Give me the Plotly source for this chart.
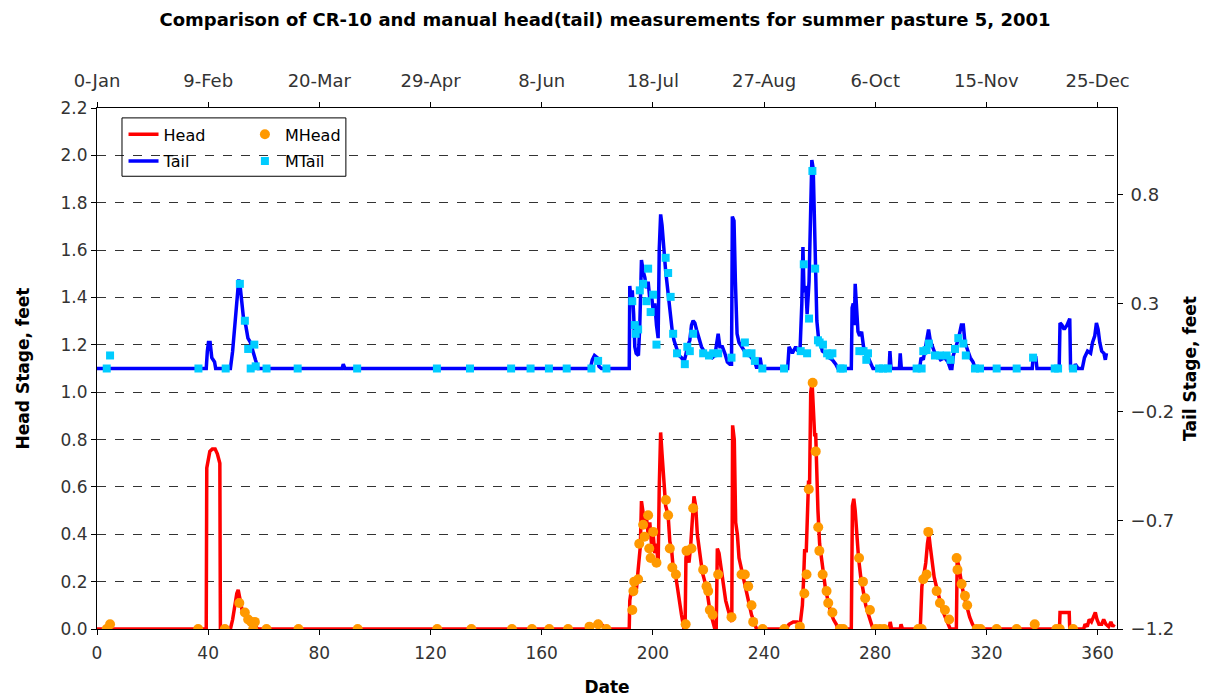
import plotly.graph_objects as go

# logger (CR-10) series, day of year 2001
head_day = [0, 39.3, 39.5, 40.0, 40.6, 41.5, 42.5, 43.3, 44.2, 44.4, 48.0, 48.8, 49.6, 50.3, 50.8, 51.5, 52.2,
            53.0, 54.0, 55.0, 56.0, 57.0, 58.0, 177.0, 178.0, 179.5, 180.5, 181.5, 183.0, 191.5, 191.7, 192.2,
            192.8, 193.4, 194.1, 194.7, 195.5, 195.9, 196.4, 197.1, 197.7, 198.3, 198.9, 199.5, 200.1, 200.7,
            201.3, 201.9, 202.3, 202.8, 203.3, 204.0, 204.6, 205.5, 206.1, 206.7, 207.3, 207.9, 208.5, 209.4,
            210.3, 211.2, 211.6, 211.9, 212.4, 213.0, 213.6, 214.2, 214.8, 215.4, 216.0, 216.9, 217.8, 218.7,
            219.6, 220.5, 221.4, 222.3, 222.8, 223.2, 223.8, 224.4, 225.3, 226.2, 227.1, 227.9, 228.4, 228.7,
            229.3, 229.8, 230.4, 231.0, 231.9, 232.8, 233.7, 234.6, 235.5, 236.4, 237.3, 248.0, 249.0, 250.5,
            252.0, 253.0, 253.8, 254.2, 254.6, 255.2, 255.6, 256.0, 256.4, 256.8, 257.3, 257.8, 258.2, 258.6,
            259.0, 259.4, 260.0, 260.6, 261.2, 262.1, 263.0, 264.0, 265.0, 266.0, 266.6, 271.4, 271.8, 272.3,
            272.8, 273.3, 274.0, 274.8, 275.6, 276.6, 277.6, 278.5, 279.2, 285.0, 285.4, 285.9, 289.0, 289.3,
            289.8, 296.2, 296.8, 297.4, 298.2, 298.8, 299.3, 299.8, 300.4, 301.2, 302.2, 303.2, 304.2, 305.2,
            306.2, 307.0, 309.2, 309.5, 310.0, 310.6, 311.4, 312.2, 313.0, 314.0, 315.0, 316.0, 346.3, 346.5,
            349.8, 350.0, 355.0, 355.5, 356.3, 357.0, 357.8, 358.5, 359.2, 359.8, 360.5, 361.5, 362.2, 363.0,
            364.0, 364.8, 365.5, 366.0]
head_val = [0, 0, 0.68, 0.72, 0.75, 0.76, 0.76, 0.74, 0.70, 0, 0, 0.04, 0.10, 0.15, 0.165, 0.13, 0.08,
            0.06, 0.04, 0.03, 0.02, 0.01, 0, 0, 0.01, 0.02, 0.03, 0.02, 0, 0, 0.12, 0.16,
            0.14, 0.20, 0.17, 0.25, 0.35, 0.54, 0.50, 0.44, 0.47, 0.40, 0.45, 0.36, 0.40, 0.32,
            0.36, 0.27, 0.60, 0.83, 0.74, 0.60, 0.52, 0.48, 0.37, 0.34, 0.26, 0.25, 0.20, 0.12,
            0.06, 0, 0, 0.30, 0.33, 0.28, 0.35, 0.46, 0.56, 0.52, 0.40, 0.32, 0.24, 0.20,
            0.15, 0.08, 0.04, 0, 0, 0.34, 0.32, 0.27, 0.20, 0.12, 0.08, 0.05, 0.03, 0.86,
            0.80, 0.45, 0.40, 0.30, 0.25, 0.20, 0.15, 0.10, 0.06, 0.03, 0, 0, 0.02, 0.03,
            0.03, 0.02, 0.10, 0.20, 0.33, 0.33, 0.50, 0.62, 0.62, 1.00, 1.04, 0.93, 0.82, 0.82,
            0.60, 0.50, 0.36, 0.30, 0.25, 0.17, 0.12, 0.07, 0.04, 0.02, 0, 0, 0.52, 0.55,
            0.50, 0.40, 0.30, 0.22, 0.16, 0.10, 0.06, 0.02, 0, 0, 0.03, 0, 0, 0.02,
            0, 0, 0.18, 0.22, 0.28, 0.36, 0.40, 0.35, 0.29, 0.22, 0.17, 0.12, 0.08, 0.05,
            0.02, 0, 0, 0.29, 0.27, 0.22, 0.17, 0.13, 0.09, 0.05, 0.02, 0, 0, 0.07,
            0.07, 0, 0, 0.02, 0.01, 0.04, 0.03, 0.05, 0.07, 0.04, 0.02, 0.02, 0.04, 0.02,
            0.01, 0.03, 0.01, 0.02]

tail_day = [0, 39.3, 39.7, 40.1, 40.7, 41.3, 42.3, 42.7, 48.0, 48.8, 49.6, 50.4, 51.0, 51.5, 52.0, 52.8,
            53.5, 54.3, 55.2, 56.0, 57.0, 58.0, 88.2, 88.6, 89.2, 177.5, 178.2, 179.0, 180.0, 180.6, 181.5,
            191.5, 191.7, 192.2, 192.6, 193.1, 193.5, 194.0, 194.8, 195.3, 195.9, 196.5, 197.1, 197.7, 198.3,
            198.9, 199.5, 200.1, 200.7, 201.3, 201.9, 202.3, 202.8, 203.3, 204.0, 204.6, 205.2, 205.8, 206.4,
            207.0, 207.6, 208.5, 209.4, 210.3, 211.2, 211.8, 212.4, 213.3, 213.9, 214.5, 215.1, 215.7, 216.6,
            217.5, 218.4, 219.3, 220.5, 221.4, 222.3, 223.2, 223.5, 224.1, 225.0, 225.9, 226.8, 227.7, 228.3,
            228.6, 229.2, 229.7, 230.3, 231.0, 232.0, 233.0, 234.2, 235.5, 236.7, 237.4, 238.6, 239.2, 248.5,
            249.0, 250.2, 251.4, 252.2, 253.0, 253.6, 254.0, 254.4, 255.0, 255.5, 256.2, 256.8, 257.2, 257.7,
            258.1, 258.5, 259.0, 259.6, 260.2, 261.0, 262.2, 263.4, 264.6, 265.8, 266.6, 271.4, 271.7, 272.1,
            272.5, 272.8, 273.3, 273.8, 274.4, 275.1, 275.8, 276.5, 277.5, 278.7, 279.2, 285.0, 285.3, 285.7,
            288.7, 289.0, 289.4, 296.0, 296.5, 297.3, 298.0, 298.7, 299.2, 299.8, 300.5, 301.5, 302.5, 303.5,
            305.0, 306.2, 307.0, 307.6, 308.1, 309.0, 310.0, 311.0, 311.7, 312.3, 313.2, 314.2, 315.2, 316.0,
            336.5, 336.8, 337.8, 338.2, 346.2, 346.5, 347.2, 348.0, 349.0, 350.0, 350.3, 351.5, 352.0, 353.0,
            354.5, 355.3, 356.4, 357.5, 358.2, 359.0, 359.6, 360.2, 360.8, 361.5, 362.3, 362.8, 363.2]
tail_val = [0, 0, 0.08, 0.12, 0.12, 0.05, 0.03, 0, 0, 0.08, 0.20, 0.33, 0.41, 0.38, 0.30, 0.22,
            0.20, 0.14, 0.12, 0.08, 0.04, 0, 0, 0.02, 0, 0, 0.04, 0.06, 0.05, 0.01, 0,
            0, 0.38, 0.30, 0.36, 0.25, 0.10, 0.07, 0.06, 0.20, 0.50, 0.45, 0.42, 0.37, 0.40,
            0.32, 0.34, 0.27, 0.30, 0.20, 0.14, 0.55, 0.71, 0.66, 0.52, 0.45, 0.38, 0.30, 0.22,
            0.17, 0.13, 0.10, 0.06, 0.05, 0.03, 0.06, 0.10, 0.13, 0.20, 0.22, 0.21, 0.18, 0.14,
            0.10, 0.08, 0.06, 0.06, 0.05, 0.06, 0.12, 0.16, 0.10, 0.10, 0.07, 0.03, 0.02, 0.02,
            0.70, 0.68, 0.40, 0.16, 0.12, 0.10, 0.08, 0.07, 0.05, 0.03, 0, 0.05, 0, 0,
            0.10, 0.07, 0.10, 0.08, 0.10, 0.30, 0.56, 0.35, 0.38, 0.25, 0.40, 0.80, 0.96, 0.92,
            0.70, 0.40, 0.22, 0.14, 0.12, 0.08, 0.07, 0.05, 0.04, 0.02, 0, 0, 0.28, 0.30,
            0.20, 0.39, 0.30, 0.17, 0.15, 0.17, 0.10, 0.08, 0.05, 0.02, 0, 0, 0.08, 0,
            0, 0.07, 0, 0, 0.05, 0.04, 0.10, 0.15, 0.18, 0.13, 0.10, 0.07, 0.06, 0.04,
            0.05, 0.03, 0, 0, 0.06, 0.10, 0.14, 0.20, 0.20, 0.12, 0.08, 0.05, 0.03, 0,
            0, 0.05, 0.05, 0, 0, 0.21, 0.20, 0.18, 0.20, 0.23, 0, 0, 0.02, 0,
            0, 0.05, 0.08, 0.07, 0.12, 0.15, 0.21, 0.18, 0.12, 0.08, 0.07, 0.04, 0.07]

# manual readings
mhead_day = [3.5, 4.7, 36.4, 46.0, 51.2, 53.2, 54.4, 55.5, 56.2, 56.8, 61.0, 72.5, 93.8, 122.4, 134.7,
             149.3, 156.5, 162.7, 169.5, 177.2, 180.3, 183.3, 192.6, 193.0, 193.3, 194.7, 195.1, 196.5,
             197.0, 198.3, 198.7, 199.2, 200.1, 201.3, 204.7, 205.5, 206.1, 207.0, 208.3, 211.8, 212.1,
             213.9, 214.5, 218.1, 219.3, 219.9, 220.5, 221.5, 223.5, 228.3, 231.9, 233.1, 234.3, 235.5,
             236.1, 239.5, 247.3, 252.9, 254.5, 255.3, 256.1, 257.5, 258.6, 259.5, 259.9, 261.1, 262.5,
             263.1, 264.6, 267.3, 268.5, 274.2, 275.6, 276.4, 278.1, 280.2, 281.7, 283.2, 295.5, 296.7,
             297.3, 298.5, 299.1, 302.1, 303.3, 305.1, 306.6, 309.3, 309.6, 311.1, 312.3, 313.1, 316.5,
             317.9, 323.7, 330.9, 337.4, 345.2, 346.4, 351.2]
mhead_val = [0, 0.02, 0, 0, 0.11, 0.07, 0.04, 0.03, 0, 0.03, 0, 0, 0, 0, 0,
             0, 0, 0, 0, 0.01, 0.02, 0, 0.08, 0.16, 0.20, 0.21, 0.36, 0.44,
             0.39, 0.48, 0.34, 0.30, 0.41, 0.28, 0.545, 0.48, 0.34, 0.26, 0.23, 0.02, 0.33,
             0.34, 0.51, 0.25, 0.18, 0.16, 0.08, 0.06, 0.23, 0.05, 0.23, 0.23, 0.18, 0.10,
             0.03, 0, 0, 0.01, 0.15, 0.23, 0.59, 1.04, 0.75, 0.43, 0.33, 0.23, 0.16,
             0.11, 0.07, 0, 0, 0.30, 0.20, 0.13, 0.08, 0, 0, 0, 0, 0,
             0.21, 0.23, 0.41, 0.16, 0.11, 0.08, 0.04, 0.30, 0.25, 0.19, 0.14, 0.10, 0,
             0, 0, 0, 0.02, 0, 0, 0]

mtail_day = [3.5, 4.7, 36.5, 46.3, 51.4, 53.2, 54.4, 55.3, 56.6, 57.1, 61.0, 72.2, 93.6, 122.3, 134.2,
             149.0, 156.0, 162.6, 169.0, 177.9, 180.3, 183.3, 192.6, 193.5, 193.8, 194.7, 195.3, 196.5,
             197.7, 198.3, 199.2, 200.1, 201.3, 204.6, 205.5, 206.4, 207.3, 208.7, 211.5, 212.4, 213.3,
             214.5, 218.1, 220.2, 221.7, 223.5, 228.3, 233.1, 233.7, 235.5, 236.7, 239.4, 247.2, 253.2,
             254.3, 255.5, 256.2, 257.4, 258.4, 259.4, 260.0, 261.2, 262.7, 263.6, 264.6, 267.5, 268.4,
             274.3, 275.8, 276.8, 277.4, 281.4, 282.8, 284.6, 294.9, 296.7, 297.3, 298.5, 299.3, 301.5,
             303.3, 305.7, 307.1, 308.7, 309.9, 311.7, 312.6, 315.9, 317.7, 323.7, 330.9, 336.8, 344.6,
             345.8, 351.2]
mtail_val = [0, 0.06, 0, 0, 0.39, 0.22, 0.09, 0, 0.11, 0.01, 0, 0, 0, 0, 0,
             0, 0, 0, 0, 0, 0.035, 0, 0.31, 0.20, 0.16, 0.18, 0.36, 0.39,
             0.31, 0.46, 0.26, 0.34, 0.11, 0.51, 0.44, 0.33, 0.16, 0.07, 0.02, 0.10, 0.08,
             0.16, 0.07, 0.06, 0.07, 0.07, 0.05, 0.12, 0.07, 0.07, 0.035, 0, 0, 0.08,
             0.48, 0.07, 0.23, 0.91, 0.46, 0.13, 0.12, 0.11, 0.07, 0.06, 0.07, 0, 0,
             0.08, 0.08, 0.04, 0.07, 0, 0, 0, 0, 0, 0.08, 0.085, 0.115, 0.06,
             0.06, 0.06, 0.04, 0.09, 0.14, 0.115, 0.06, 0, 0, 0, 0, 0.05, 0,
             0, 0]

day_ticks = [0, 40, 80, 120, 160, 200, 240, 280, 320, 360]
date_labels = ['0-Jan', '9-Feb', '20-Mar', '29-Apr', '8-Jun', '18-Jul', '27-Aug', '6-Oct', '15-Nov', '25-Dec']
head_ticks = [0, 0.2, 0.4, 0.6, 0.8, 1.0, 1.2, 1.4, 1.6, 1.8, 2.0, 2.2]
tail_ticks = [-1.2, -0.7, -0.2, 0.3, 0.8]

FONT = 'DejaVu Sans, Verdana, sans-serif'
tick_small = dict(family=FONT, size=17, color='#333333')
tick_big = dict(family=FONT, size=18, color='#333333')
title_font = dict(family=FONT, size=17, color='black')

fig = go.Figure()
fig.add_trace(go.Scatter(x=head_day, y=head_val, name='Head', mode='lines',
                         line=dict(color='#FF0000', width=3.5), legend='legend', legendgroup='a'))
fig.add_trace(go.Scatter(x=tail_day, y=tail_val, name='Tail', mode='lines', yaxis='y2',
                         line=dict(color='#0000FF', width=3.5), legend='legend', legendgroup='b'))
fig.add_trace(go.Scatter(x=mhead_day, y=mhead_val, name='MHead', mode='markers',
                         marker=dict(color='#FF9900', size=10, symbol='circle'),
                         legend='legend2', legendgroup='c'))
fig.add_trace(go.Scatter(x=mtail_day, y=mtail_val, name='MTail', mode='markers', yaxis='y2',
                         marker=dict(color='#00CCFF', size=8, symbol='square'),
                         legend='legend2', legendgroup='d'))
# empty trace so the date axis on top gets drawn
fig.add_trace(go.Scatter(x=day_ticks, y=[None] * len(day_ticks), xaxis='x2', mode='lines',
                         showlegend=False, hoverinfo='skip'))

axis_common = dict(showline=True, linecolor='black', linewidth=1, ticks='outside', ticklen=5,
                   tickcolor='black', showgrid=False, zeroline=False)

# page has an 8px body margin, so the plot box is shifted back by 8px here
fig.update_layout(
    width=1210, height=698,
    margin=dict(l=89, r=101, t=100, b=77, autoexpand=False),
    paper_bgcolor='white', plot_bgcolor='white',
    font=dict(family=FONT, color='black'),
    title=dict(text='<b>Comparison of CR-10 and manual head(tail) measurements for summer pasture 5, 2001</b>',
               x=0.4934, xanchor='center', y=0.983, yanchor='middle',
               font=dict(family=FONT, size=18, color='black')),
    xaxis=dict(axis_common, range=[0, 367], tickvals=day_ticks, tickfont=tick_small,
               ticklabelstandoff=4,
               title=dict(text='<b>Date</b>', font=title_font, standoff=18)),
    xaxis2=dict(axis_common, range=[0, 367], overlaying='x', side='top', anchor='y',
                tickvals=day_ticks, ticktext=date_labels, tickfont=tick_big, ticklabelstandoff=8),
    yaxis=dict(axis_common, range=[0, 2.2], tickvals=head_ticks, tickformat='.1f', tickfont=tick_small,
               showgrid=True, gridcolor='#333333', griddash='dash', gridwidth=1,
               title=dict(text='<b>Head Stage, feet</b>', font=title_font, standoff=26)),
    yaxis2=dict(axis_common, range=[-1.2, 1.2], overlaying='y', side='right', anchor='x',
                tickvals=tail_ticks, tickformat='.1f', tickfont=tick_big, ticklabelstandoff=4,
                title=dict(text='<b>Tail Stage, feet</b>', font=title_font, standoff=10)),
    legend=dict(x=0.026, y=0.982, xanchor='left', yanchor='top', bgcolor='rgba(0,0,0,0)',
                font=dict(family=FONT, size=16, color='black'), tracegroupgap=3,
                traceorder='grouped'),
    legend2=dict(x=0.145, y=0.982, xanchor='left', yanchor='top', bgcolor='rgba(0,0,0,0)',
                 font=dict(family=FONT, size=16, color='black'), tracegroupgap=3,
                 traceorder='grouped'),
    shapes=[dict(type='rect', xref='paper', yref='paper', x0=0.0245, x1=0.244, y0=0.869, y1=0.981,
                 line=dict(color='black', width=1), fillcolor='rgba(0,0,0,0)')],
    showlegend=True,
)

fig.write_html("out.html")
